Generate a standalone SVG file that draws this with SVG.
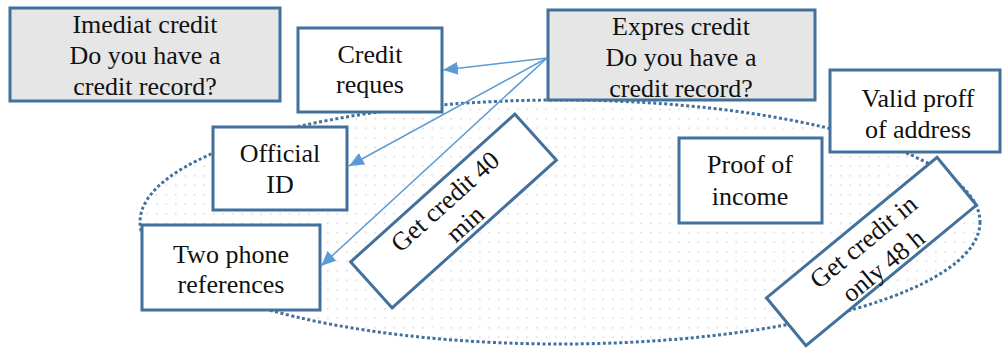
<svg xmlns="http://www.w3.org/2000/svg" width="1003" height="348" viewBox="0 0 1003 348">
<style>
.box{stroke:#41719c;stroke-width:3;fill:#ffffff}
.gray{fill:#e6e6e6}
.t{font-family:'Liberation Serif',Tinos,'DejaVu Serif',serif;font-size:26px;fill:#111;text-anchor:middle}
.conn{stroke:#5b9bd5;stroke-width:1.5;fill:none;marker-end:url(#ah)}
</style>
<defs>
<pattern id="dots" width="9.5" height="9.5" patternUnits="userSpaceOnUse">
<rect width="9.5" height="9.5" fill="#ffffff"/>
<circle cx="4.75" cy="4.75" r="0.65" fill="#b4b4b4"/>
</pattern>
<marker id="ah" markerUnits="userSpaceOnUse" markerWidth="15" markerHeight="13" refX="15" refY="6.5" orient="auto">
<path d="M0,0 L15,6.5 L0,13 z" fill="#5b9bd5"/>
</marker>
</defs>
<rect width="1003" height="348" fill="#ffffff"/>
<g id="region">
<ellipse cx="560" cy="222" rx="420" ry="122" fill="url(#dots)" stroke="#41719c" stroke-width="3" stroke-dasharray="3 2.5"/>
</g>
<g id="imediat">
<rect class="box gray" x="10" y="8" width="270" height="93"/>
<text class="t" x="145" y="33">Imediat credit</text>
<text class="t" x="145" y="64">Do you have a</text>
<text class="t" x="145" y="95">credit record?</text>
</g>
<g id="credit-reques">
<rect class="box" x="298" y="28" width="144" height="84"/>
<text class="t" x="370" y="63">Credit</text>
<text class="t" x="370" y="93">reques</text>
</g>
<g id="expres">
<rect class="box gray" x="548" y="10" width="267" height="90"/>
<text class="t" x="681" y="35">Expres credit</text>
<text class="t" x="681" y="66">Do you have a</text>
<text class="t" x="681" y="97">credit record?</text>
</g>
<g id="official-id">
<rect class="box" x="213" y="127" width="134" height="83"/>
<text class="t" x="280" y="162">Official</text>
<text class="t" x="280" y="193">ID</text>
</g>
<g id="two-phone">
<rect class="box" x="142" y="225" width="178" height="85"/>
<text class="t" x="231" y="263">Two phone</text>
<text class="t" x="231" y="293">references</text>
</g>
<g id="valid-proff">
<rect class="box" x="830" y="70" width="170" height="82"/>
<text class="t" x="918" y="107">Valid proff</text>
<text class="t" x="918" y="138">of address</text>
</g>
<g id="proof-income">
<rect class="box" x="679" y="138" width="143" height="85"/>
<text class="t" x="750" y="173">Proof of</text>
<text class="t" x="750" y="205">income</text>
</g>
<g id="get-40" transform="translate(453.5,211) rotate(-42)">
<rect class="box" x="-110.5" y="-31" width="221" height="62"/>
<text class="t" x="0" y="-4">Get credit 40</text>
<text class="t" x="0" y="26">min</text>
</g>
<g id="get-48" transform="translate(871.5,251.5) rotate(-39.5)">
<rect class="box" x="-110.5" y="-31" width="221" height="62"/>
<text class="t" x="0" y="-4">Get credit in</text>
<text class="t" x="0" y="27">only 48 h</text>
</g>
<g id="connectors">
<line class="conn" x1="547" y1="58" x2="443" y2="70"/>
<line class="conn" x1="547" y1="58" x2="349" y2="166"/>
<line class="conn" x1="547" y1="58" x2="321" y2="266"/>
</g>
</svg>
